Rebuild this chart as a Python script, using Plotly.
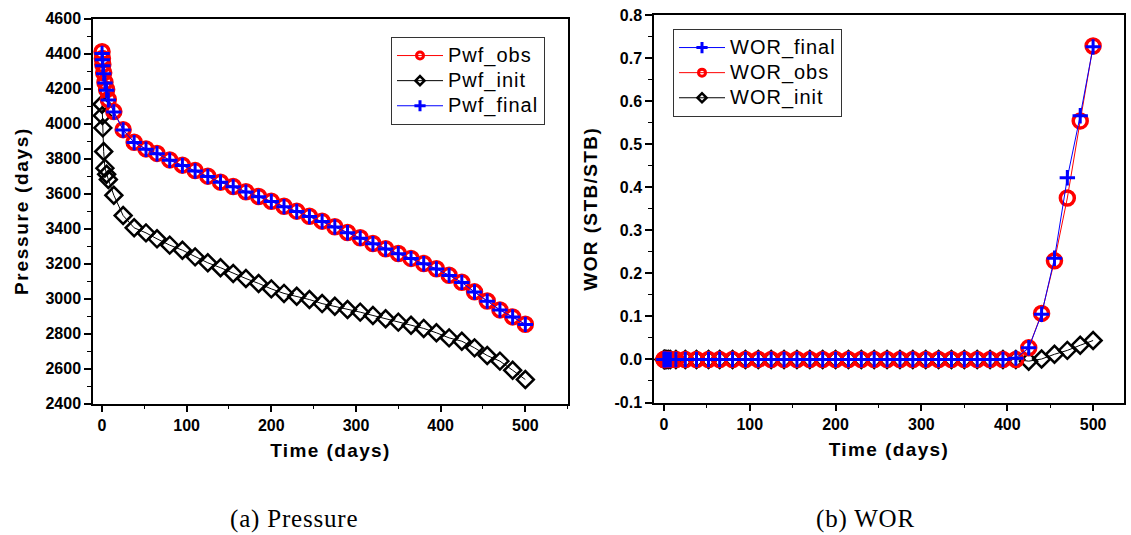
import plotly.graph_objects as go

# Sampling times (days), shared by every series
time_days = [0.1, 0.5, 1, 2, 3.5, 5.5, 7.5, 14, 25, 38, 52, 65, 80, 95,
             110, 125, 140, 155, 170, 185, 200, 215, 230, 245, 260, 275,
             290, 305, 320, 335, 350, 365, 380, 395, 410, 425, 440, 455,
             470, 485, 500]

# Bottom-hole flowing pressure
pwf_obs = [4410, 4372, 4337, 4290, 4236, 4194, 4137, 4068, 3965, 3893,
           3855, 3829, 3792, 3762, 3731, 3699, 3665, 3640, 3610, 3583,
           3556, 3527, 3499, 3470, 3442, 3410, 3377, 3347, 3314, 3284,
           3257, 3229, 3200, 3170, 3133, 3093, 3038, 2986, 2935, 2895,
           2853]
pwf_init = [4110, 4045, 3975, 3840, 3745, 3710, 3680, 3590, 3474, 3404,
            3375, 3341, 3305, 3276, 3238, 3204, 3176, 3143, 3114, 3086,
            3055, 3029, 3013, 2994, 2971, 2956, 2937, 2922, 2903, 2884,
            2865, 2847, 2829, 2804, 2775, 2756, 2718, 2674, 2642, 2590,
            2537]
pwf_final = [4400, 4365, 4330, 4285, 4232, 4190, 4135, 4066, 3963, 3891,
             3853, 3827, 3790, 3760, 3729, 3697, 3664, 3638, 3608, 3581,
             3554, 3525, 3497, 3468, 3440, 3409, 3376, 3345, 3313, 3283,
             3256, 3228, 3199, 3169, 3132, 3092, 3037, 2985, 2934, 2894,
             2852]

# Water-oil ratio
wor_final = [0.0, 0.0, 0.0, 0.0, 0.0, 0.0, 0.0, 0.0, 0.0, 0.0,
             0.0, 0.0, 0.0, 0.0, 0.0, 0.0, 0.0, 0.0, 0.0, 0.0,
             0.0, 0.0, 0.0, 0.0, 0.0, 0.0, 0.0, 0.0, 0.0, 0.0,
             0.0, 0.0, 0.0, 0.0, 0.003, 0.027, 0.105, 0.235, 0.422, 0.566,
             0.726]
wor_obs = [0.0, 0.0, 0.0, 0.0, 0.0, 0.0, 0.0, 0.0, 0.0, 0.0,
           0.0, 0.0, 0.0, 0.0, 0.0, 0.0, 0.0, 0.0, 0.0, 0.0,
           0.0, 0.0, 0.0, 0.0, 0.0, 0.0, 0.0, 0.0, 0.0, 0.0,
           0.0, 0.0, 0.0, 0.0, 0.0, 0.027, 0.107, 0.229, 0.375, 0.554,
           0.728]
wor_init = [0.0, 0.0, 0.0, 0.0, 0.0, 0.0, 0.0, 0.0, 0.0, 0.0,
            0.0, 0.0, 0.0, 0.0, 0.0, 0.0, 0.0, 0.0, 0.0, 0.0,
            0.0, 0.0, 0.0, 0.0, 0.0, 0.0, 0.0, 0.0, 0.0, 0.0,
            0.0, 0.0, 0.0, 0.0, 0.0, -0.004, 0.001, 0.012, 0.021, 0.033,
            0.044]

x_ticks = [0, 100, 200, 300, 400, 500]
p_ticks = [2400, 2600, 2800, 3000, 3200, 3400, 3600, 3800, 4000, 4200, 4400, 4600]
wor_ticks = [-0.1, 0.0, 0.1, 0.2, 0.3, 0.4, 0.5, 0.6, 0.7, 0.8]
wor_tick_text = ["-0.1", "0.0", "0.1", "0.2", "0.3", "0.4", "0.5", "0.6", "0.7", "0.8"]

W, H = 1131, 535
SANS = "Liberation Sans, Arial, sans-serif"
SERIF = "Liberation Serif, Times New Roman, serif"

STYLE = {
    "obs": dict(color="red", symbol="circle-open", size=14, lw=3.5),
    "init": dict(color="black", symbol="diamond-open", size=13, lw=2.5),
    "final": dict(color="blue", symbol="cross-thin-open", size=11, lw=3),
}
LEGEND_MARK = {
    "obs": dict(symbol="circle-open", size=7, lw=3),
    "init": dict(symbol="diamond-open", size=7, lw=2.5),
    "final": dict(symbol="cross-thin-open", size=8, lw=3),
}


def spaced(text, px, size=None):
    """Wrap a label in a span with extra letter spacing (and optional size)."""
    css = f"letter-spacing:{px}px"
    if size is not None:
        css += f";font-size:{size}px"
    return f'<span style="{css}">{text}</span>'


fig = go.Figure()


def add_series(x, y, kind, xa, ya):
    s = STYLE[kind]
    fig.add_trace(go.Scatter(
        x=x, y=y, xaxis=xa, yaxis=ya, mode="lines+markers",
        line=dict(color=s["color"], width=1),
        marker=dict(symbol=s["symbol"], size=s["size"], color=s["color"],
                    line=dict(width=s["lw"], color=s["color"])),
        showlegend=False, cliponaxis=True, hoverinfo="x+y",
    ))


def add_key(name, kind, legend, rank):
    s = STYLE[kind]
    m = LEGEND_MARK[kind]
    fig.add_trace(go.Scatter(
        x=[None], y=[None], mode="lines+markers", name=spaced(name, 1, 20),
        line=dict(color=s["color"], width=1),
        marker=dict(symbol=m["symbol"], size=m["size"], color=s["color"],
                    line=dict(width=m["lw"], color=s["color"])),
        legend=legend, legendrank=rank, showlegend=True,
    ))


# Pressure panel
add_series(time_days, pwf_init, "init", "x", "y")
add_series(time_days, pwf_obs, "obs", "x", "y")
add_series(time_days, pwf_final, "final", "x", "y")
add_key("Pwf_obs", "obs", "legend", 1)
add_key("Pwf_init", "init", "legend", 2)
add_key("Pwf_final", "final", "legend", 3)

# WOR panel
add_series(time_days, wor_init, "init", "x2", "y2")
add_series(time_days, wor_obs, "obs", "x2", "y2")
add_series(time_days, wor_final, "final", "x2", "y2")
add_key("WOR_final", "final", "legend2", 1)
add_key("WOR_obs", "obs", "legend2", 2)
add_key("WOR_init", "init", "legend2", 3)

tick_font = dict(family=SANS, size=16, color="black", weight="bold")
title_font = dict(family=SANS, size=19, color="black", weight="bold")

axis_common = dict(
    showgrid=False, zeroline=False, showline=True, linecolor="black",
    linewidth=1.5, mirror=True, ticks="outside", ticklen=7, tickwidth=1.5,
    tickcolor="black", tickfont=tick_font, automargin=False,
)
minor_common = dict(ticks="outside", ticklen=4, tickwidth=1, tickcolor="black",
                    showgrid=False)

legend_common = dict(
    xanchor="left", yanchor="top", bgcolor="white", bordercolor="#333",
    borderwidth=1, font=dict(family=SANS, size=17, color="black"),
    itemwidth=46, tracegroupgap=0,
)

fig.update_layout(
    width=W, height=H,
    margin=dict(l=0, r=0, t=0, b=0, autoexpand=False),
    paper_bgcolor="white", plot_bgcolor="white",
    xaxis=dict(domain=[93 / W, 568 / W], range=[-10.6, 550.4],
               tickvals=x_ticks, minor=dict(dtick=50, **minor_common),
               title=dict(text=spaced("Time (days)", 1.4), font=title_font,
                          standoff=10),
               anchor="y", **axis_common),
    yaxis=dict(domain=[1 - 403.5 / H, 1 - 18.5 / H], range=[2400, 4600],
               tickvals=p_ticks, minor=dict(dtick=100, **minor_common),
               title=dict(text=spaced("Pressure (days)", 1.7), font=title_font,
                          standoff=12),
               anchor="x", **axis_common),
    xaxis2=dict(domain=[654 / W, 1124 / W], range=[-11.5, 536],
                tickvals=x_ticks, minor=dict(dtick=50, **minor_common),
                title=dict(text=spaced("Time (days)", 1.4), font=title_font,
                           standoff=10),
                anchor="y2", **axis_common),
    yaxis2=dict(domain=[1 - 402.5 / H, 1 - 15 / H], range=[-0.1, 0.8],
                tickvals=wor_ticks, ticktext=wor_tick_text,
                minor=dict(dtick=0.05, tick0=0, **minor_common),
                title=dict(text=spaced("WOR (STB/STB)", 1.4), font=title_font,
                           standoff=12),
                anchor="x2", **axis_common),
    legend=dict(x=391 / W, y=1 - 37 / H, **legend_common),
    legend2=dict(x=673 / W, y=1 - 29 / H, **legend_common),
    annotations=[
        dict(text=spaced("(a) Pressure", 0.8), x=294 / W, y=1 - 519 / H,
             xref="paper", yref="paper", showarrow=False, xanchor="center",
             yanchor="middle", font=dict(family=SERIF, size=25, color="black")),
        dict(text=spaced("(b) WOR", 0.8), x=865 / W, y=1 - 519 / H,
             xref="paper", yref="paper", showarrow=False, xanchor="center",
             yanchor="middle", font=dict(family=SERIF, size=25, color="black")),
    ],
)

fig.write_html("out.html")
